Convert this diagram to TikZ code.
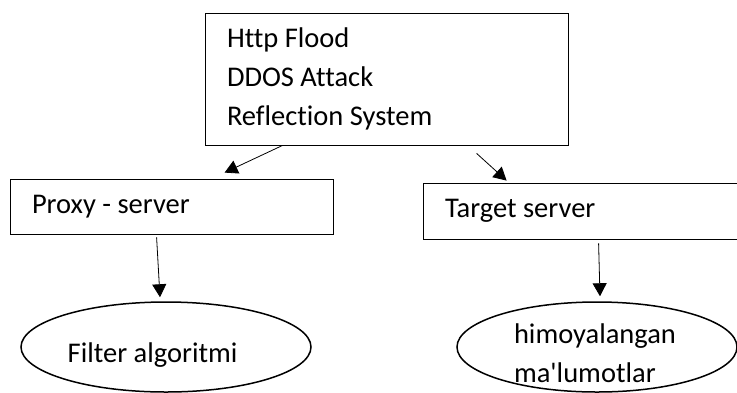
\documentclass[tikz,border=0pt]{standalone}
\usepackage{fontspec}
\setmainfont{Carlito}[Ligatures={TeXOff,CommonOff}]
\usetikzlibrary{arrows.meta, shapes.geometric}

\begin{document}
\begin{tikzpicture}[x=1pt, y=-1pt]

% styles
\pgfkeys{/txt/.style={node font=\fontsize{28.5}{39}\selectfont}} % base style for texts
\pgfkeys{/box/.style={/txt, draw, line width=0.8pt, rectangle, inner sep=0, align=flush left}} % rectangular blocks
\pgfkeys{/oval/.style={draw, line width=1.5pt, ellipse, inner sep=0}} % results
\pgfkeys{/arr/.style={draw, line width=0.8pt, -{Triangle[length=13pt, width=14pt]}}} % arrows

\useasboundingbox (0,0) rectangle (737,392);
\clip (0,0) rectangle (737,392);

% top block
\node[/box, minimum width=363pt, minimum height=132pt, text width=319pt] (attack) at (386.5,79)
{Http Flood\\DDOS Attack\\Reflection System};

% second row
\node[/box, minimum width=323pt, minimum height=55pt, text width=279pt] (proxy) at (171.5,206.5) {Proxy - server};
\node[/box, minimum width=337pt, minimum height=56pt, text width=293pt] (target) at (591.5,211) {Target server};

% bottom row
\node[/oval, minimum width=290pt, minimum height=90pt] (filter) at (166,347) {};
\node[/txt, anchor=west] (filtertxt) at (58,355) {Filter algoritmi};
\node[/oval, minimum width=280pt, minimum height=90pt] (data) at (597,347) {};
\node[/txt, align=left] (datatxt) at (595,353) {himoyalangan\\ma'lumotlar};

% arrows
\draw[/arr] ([xshift=78pt]attack.south west) -- ([xshift=215pt, yshift=6pt]proxy.north west);
\draw[/arr] ([xshift=272pt, yshift=-8pt]attack.south west) -- ([xshift=84pt, yshift=2pt]target.north west);
\draw[/arr] ([xshift=147pt, yshift=-3pt]proxy.south west) -- ([xshift=-6pt, yshift=4pt]filter.north);
\draw[/arr] ([xshift=176pt, yshift=-4pt]target.south west) -- ([xshift=3pt, yshift=5pt]data.north);

\end{tikzpicture}
\end{document}
